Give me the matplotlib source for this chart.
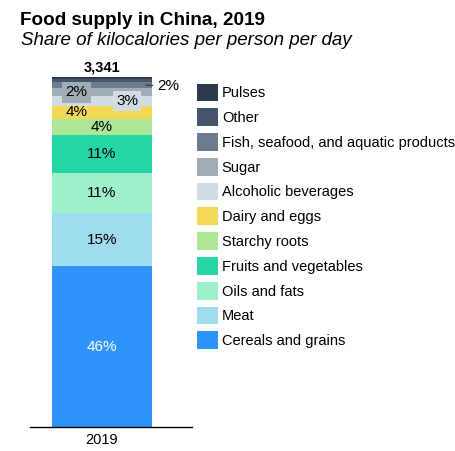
import matplotlib.pyplot as plt

plt.rcParams['font.family'] = ['Liberation Sans', 'DejaVu Sans']

# Food supply per person per day in kcal, stacked bottom to top
categories = ['Cereals and grains', 'Meat', 'Oils and fats', 'Fruits and vegetables',
              'Starchy roots', 'Dairy and eggs', 'Alcoholic beverages', 'Sugar',
              'Fish, seafood, and aquatic products', 'Other', 'Pulses']
kcal = [1531, 508, 381, 368, 148, 130, 87, 80, 55, 30, 23]
year = '2019'

colors = ['#2e94fb', '#9fdcee', '#9ef0cd', '#25d6a5', '#ade696', '#f2da58',
          '#d2dce5', '#a1acb5', '#6c7c8c', '#45556b', '#2c3a4b']

# label placement inside the bar: x offset, or None for no label / leader line
label_x = [0, 0, 0, 0, 0, -0.255, 0.25, -0.255, 'out', None, None]
label_box = [False, False, False, False, False, False, True, True, False, False, False]
label_color = ['white'] + ['black'] * 10

fig = plt.figure(figsize=(4.55, 4.51), dpi=100)
ax = fig.add_axes([30 / 455, 24 / 451, 162 / 455, 350.3 / 451])

total = sum(kcal)
handles = []
bottom = 0
for i, (name, val, col) in enumerate(zip(categories, kcal, colors)):
    b = ax.bar(0, val, width=1, bottom=bottom, color=col, label=name)
    handles.append(b)
    mid = bottom + val / 2
    pct = f'{round(val / total * 100)}%'
    lx = label_x[i]
    if lx == 'out':
        ax.annotate(pct, xy=(0.44, mid), xytext=(0.66, mid - 8), ha='center', va='center',
                    fontsize=11, annotation_clip=False,
                    arrowprops=dict(arrowstyle='-', color='#333333', lw=0.8,
                                    shrinkA=1, shrinkB=0))
    elif lx is not None:
        box = dict(boxstyle='square,pad=0.22', fc=col, ec='none') if label_box[i] else None
        ax.text(lx, mid, pct, ha='center', va='center', fontsize=11,
                color=label_color[i], bbox=box)
    bottom += val

ax.annotate(f'{total:,}', xy=(0, total), xytext=(0, 3.5), textcoords='offset points',
            ha='center', va='baseline', fontsize=10.5, fontweight='bold',
            annotation_clip=False)

ax.set_xlim(-0.72, 0.9)
ax.set_ylim(0, total)
ax.set_xticks([0], [year])
ax.tick_params(axis='x', length=0, pad=4, labelsize=10.5)
ax.set_yticks([])
for s in ['left', 'top', 'right']:
    ax.spines[s].set_visible(False)
ax.spines['bottom'].set_linewidth(1)
ax.spines['bottom'].set_color('black')

fig.text(20 / 455, 1 - 25 / 451, 'Food supply in China, 2019', fontsize=13.6,
         fontweight='bold', va='baseline')
fig.text(21 / 455, 1 - 45 / 451, 'Share of kilocalories per person per day',
         fontsize=13.5, style='italic', va='baseline')

fig.legend(handles[::-1], categories[::-1], loc='upper left',
           bbox_to_anchor=(196.7 / 455, 1 - 83.5 / 451), frameon=False,
           fontsize=10.5, handlelength=1.48, handleheight=1.5, handletextpad=0.24,
           labelspacing=0.48, borderpad=0, borderaxespad=0)

fig.savefig('out.png', dpi=100)
